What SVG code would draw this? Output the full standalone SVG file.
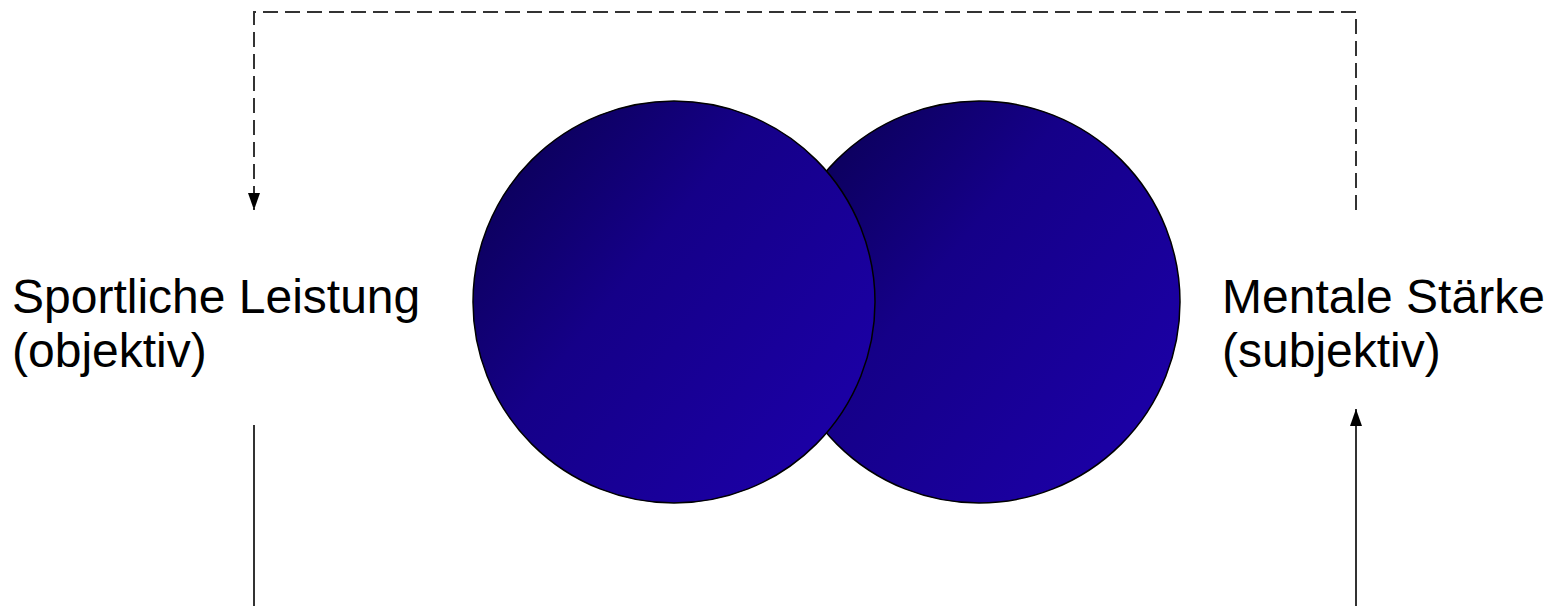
<svg xmlns="http://www.w3.org/2000/svg" width="1559" height="606" viewBox="0 0 1559 606">
<defs>
<linearGradient id="ballGrad" x1="0" y1="0" x2="1" y2="0.8">
<stop offset="0" stop-color="#08004a"/>
<stop offset="0.45" stop-color="#150088"/>
<stop offset="1" stop-color="#1c00a8"/>
</linearGradient>
<marker id="arrow" viewBox="0 0 17 13" refX="17" refY="6.5" markerWidth="17" markerHeight="13" markerUnits="userSpaceOnUse" orient="auto">
<path d="M0,0.5 L17,6.5 L0,12.5 Z" fill="#000"/>
</marker>
<style>
.lbl{font-family:"Liberation Sans",Arial,sans-serif;font-size:48px;fill:#000}
.ball{fill:url(#ballGrad);stroke:#000;stroke-width:1.5}
.dash{fill:none;stroke:#333;stroke-width:2;stroke-dasharray:15 7}
.solid{fill:none;stroke:#333;stroke-width:2}
</style>
</defs>
<rect width="1559" height="606" fill="#fff"/>
<g id="connectors">
<path class="dash" d="M1356,210 L1356,12 L254,12 L254,210" marker-end="url(#arrow)"/>
<path class="solid" d="M254,425 L254,606"/>
<path class="solid" d="M1356,606 L1356,409" marker-end="url(#arrow)"/>
</g>
<g id="circle-right">
<circle class="ball" cx="979" cy="302" r="201"/>
</g>
<g id="circle-left">
<circle class="ball" cx="674" cy="302" r="201"/>
</g>
<g id="sportliche-leistung">
<text class="lbl" x="12" y="313">Sportliche Leistung</text>
<text class="lbl" x="12" y="367">(objektiv)</text>
</g>
<g id="mentale-staerke">
<text class="lbl" x="1222" y="313">Mentale Stärke</text>
<text class="lbl" x="1222" y="367">(subjektiv)</text>
</g>
</svg>
